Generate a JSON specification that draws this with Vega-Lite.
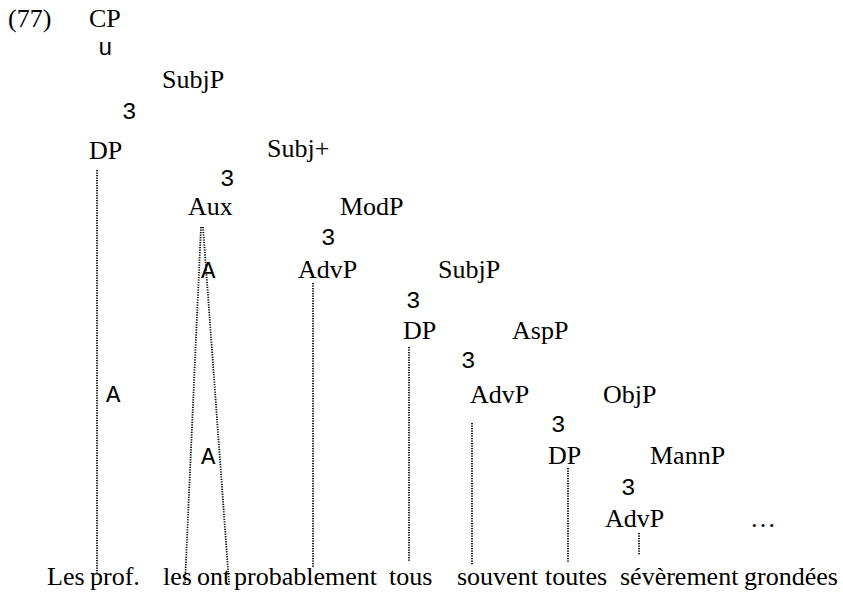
{
  "$schema": "https://vega.github.io/schema/vega-lite/v6.json",
  "width": 843,
  "height": 593,
  "padding": 0,
  "autosize": {"type": "fit", "contains": "padding"},
  "background": "white",
  "config": {"view": {"stroke": null}},
  "datasets": {
    "labels": [
      {"label": "(77)", "kind": "node", "x": 8, "y": 27},
      {"label": "CP", "kind": "node", "x": 89, "y": 27},
      {"label": "SubjP", "kind": "node", "x": 162, "y": 88},
      {"label": "DP", "kind": "node", "x": 89, "y": 159},
      {"label": "Subj+", "kind": "node", "x": 267, "y": 157},
      {"label": "Aux", "kind": "node", "x": 188, "y": 215},
      {"label": "ModP", "kind": "node", "x": 340, "y": 215},
      {"label": "AdvP", "kind": "node", "x": 298, "y": 278},
      {"label": "SubjP", "kind": "node", "x": 438, "y": 278},
      {"label": "DP", "kind": "node", "x": 403, "y": 339},
      {"label": "AspP", "kind": "node", "x": 512, "y": 339},
      {"label": "AdvP", "kind": "node", "x": 470, "y": 403},
      {"label": "ObjP", "kind": "node", "x": 603, "y": 403},
      {"label": "DP", "kind": "node", "x": 548, "y": 464},
      {"label": "MannP", "kind": "node", "x": 650, "y": 464},
      {"label": "AdvP", "kind": "node", "x": 605, "y": 527},
      {"label": "…", "kind": "node", "x": 750, "y": 527},
      {"label": "Les", "kind": "node", "x": 47, "y": 585},
      {"label": "prof.", "kind": "node", "x": 90, "y": 585},
      {"label": "les", "kind": "node", "x": 163, "y": 585},
      {"label": "ont", "kind": "node", "x": 197, "y": 585},
      {"label": "probablement", "kind": "node", "x": 234, "y": 585},
      {"label": "tous", "kind": "node", "x": 389, "y": 585},
      {"label": "souvent", "kind": "node", "x": 457, "y": 585},
      {"label": "toutes", "kind": "node", "x": 545, "y": 585},
      {"label": "sévèrement", "kind": "node", "x": 620, "y": 585},
      {"label": "grondées", "kind": "node", "x": 744, "y": 585},
      {"label": "u", "kind": "branch", "x": 98, "y": 55},
      {"label": "3", "kind": "branch", "x": 122, "y": 119},
      {"label": "3", "kind": "branch", "x": 220, "y": 186},
      {"label": "3", "kind": "branch", "x": 321, "y": 245},
      {"label": "A", "kind": "branch", "x": 201, "y": 278},
      {"label": "3", "kind": "branch", "x": 406, "y": 308},
      {"label": "3", "kind": "branch", "x": 461, "y": 368},
      {"label": "A", "kind": "branch", "x": 106, "y": 402},
      {"label": "3", "kind": "branch", "x": 551, "y": 432},
      {"label": "A", "kind": "branch", "x": 201, "y": 464},
      {"label": "3", "kind": "branch", "x": 621, "y": 495}
    ],
    "lines": [
      {"x": 97, "y": 170, "x2": 97, "y2": 575},
      {"x": 201, "y": 227, "x2": 185, "y2": 583},
      {"x": 203, "y": 227, "x2": 229, "y2": 583},
      {"x": 313, "y": 283, "x2": 313, "y2": 567},
      {"x": 409, "y": 347, "x2": 409, "y2": 562},
      {"x": 472, "y": 423, "x2": 472, "y2": 565},
      {"x": 568, "y": 468, "x2": 568, "y2": 563},
      {"x": 639, "y": 533, "x2": 639, "y2": 555}
    ]
  },
  "layer": [
    {
      "data": {"name": "lines"},
      "mark": {"type": "rule", "strokeDash": [1.2, 1.3], "strokeWidth": 1.8, "color": "black"},
      "encoding": {
        "x": {"field": "x", "type": "quantitative", "scale": {"domain": [0, 843], "nice": false, "zero": false}, "axis": null},
        "y": {"field": "y", "type": "quantitative", "scale": {"domain": [0, 593], "nice": false, "zero": false, "reverse": true}, "axis": null},
        "x2": {"field": "x2"},
        "y2": {"field": "y2"}
      }
    },
    {
      "data": {"name": "labels"},
      "transform": [{"filter": "datum.kind == 'node'"}],
      "mark": {"type": "text", "font": "Liberation Serif", "fontSize": 26, "align": "left", "baseline": "alphabetic", "color": "black"},
      "encoding": {
        "x": {"field": "x", "type": "quantitative", "scale": {"domain": [0, 843], "nice": false, "zero": false}, "axis": null},
        "y": {"field": "y", "type": "quantitative", "scale": {"domain": [0, 593], "nice": false, "zero": false, "reverse": true}, "axis": null},
        "text": {"field": "label"}
      }
    },
    {
      "data": {"name": "labels"},
      "transform": [{"filter": "datum.kind == 'branch'"}],
      "mark": {"type": "text", "font": "'Liberation Mono', 'Courier New', monospace", "fontSize": 24, "align": "left", "baseline": "alphabetic", "color": "black"},
      "encoding": {
        "x": {"field": "x", "type": "quantitative", "scale": {"domain": [0, 843], "nice": false, "zero": false}, "axis": null},
        "y": {"field": "y", "type": "quantitative", "scale": {"domain": [0, 593], "nice": false, "zero": false, "reverse": true}, "axis": null},
        "text": {"field": "label"}
      }
    }
  ]
}
